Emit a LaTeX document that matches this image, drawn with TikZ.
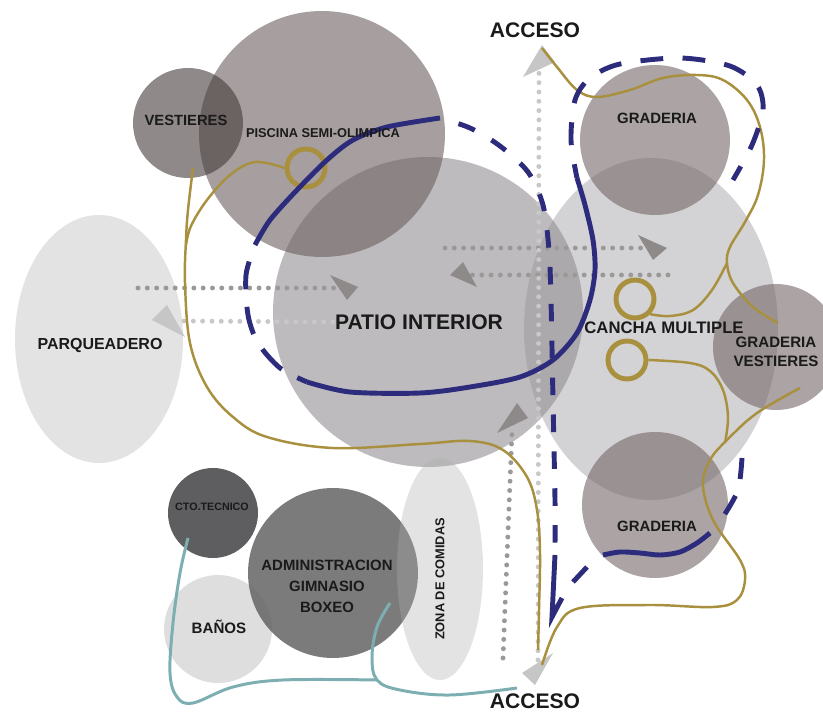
\documentclass[tikz,border=0pt]{standalone}
\usepackage{fontspec}
\setmainfont{Liberation Sans}
\usepackage{xcolor}
\usetikzlibrary{arrows.meta,positioning,shapes.geometric}
\definecolor{navy}{HTML}{2D2C7C}
\definecolor{gold}{HTML}{A8903F}
\definecolor{teal}{HTML}{7DAFB2}
\definecolor{ink}{HTML}{1A1A1A}
\definecolor{dotdark}{HTML}{9B9898}
\definecolor{dotlight}{HTML}{C8C8C8}
\definecolor{tipdark}{HTML}{8F8A8A}
\definecolor{tiplight}{HTML}{C6C6C6}
\definecolor{cParq}{HTML}{E3E3E3}
\definecolor{cCancha}{HTML}{B6B4B7}
\definecolor{cGrad}{HTML}{736667}
\definecolor{cPatio}{HTML}{918E91}
\definecolor{cPiscina}{HTML}{6C5F5F}
\definecolor{cVest}{HTML}{443A3A}
\definecolor{cCto}{HTML}{5E5D5F}
\definecolor{cBanos}{HTML}{DEDEDE}
\definecolor{cAdmin}{HTML}{656465}
\definecolor{cZona}{HTML}{AEAEAE}

\begin{document}
\begin{tikzpicture}[x=0.02cm,y=-0.02cm,
    zone/.style={circle,draw=none,inner sep=0pt,outer sep=0pt,fill opacity=0.6},
    oval/.style={ellipse,draw=none,inner sep=0pt,outer sep=0pt},
    lbl/.style 2 args={text=ink,inner sep=0pt,align=center,
      font=\fontsize{#1}{#2}\selectfont\bfseries},
    dotline/.style={line width=2.8pt,line cap=round,dash pattern=on 0pt off 5.3pt},
    bluepath/.style={navy,line width=2.8pt},
    goldpath/.style={gold,line width=1.4pt},
    tealpath/.style={teal,line width=1.7pt},
    ring/.style={circle,draw=gold,line width=2.8pt,minimum size=0.76cm,inner sep=0pt}]
  \useasboundingbox (0,0) rectangle (823,713);

  % zonas
  \node[oval,fill=cParq,minimum width=3.36cm,minimum height=4.96cm] (parq) at (99,339) {};
  \node[oval,fill=cCancha,fill opacity=0.6,minimum width=5.08cm,minimum height=6.84cm] (cancha) at (651,329) {};
  \node[zone,fill=cGrad,minimum size=3cm] (gradN) at (655,140) {};
  \node[zone,fill=cGrad,minimum size=2.52cm] (gradE) at (776,347) {};
  \node[zone,fill=cGrad,minimum size=2.92cm] (gradS) at (655,505) {};
  \node[zone,fill=cPatio,minimum size=6.2cm] (patio) at (428,312) {};
  \node[zone,fill=cPiscina,minimum size=4.92cm] (piscina) at (322,134) {};
  \node[zone,fill=cVest,minimum size=2.2cm] (vest) at (188,123) {};
  \node[zone,fill=cCto,fill opacity=1,minimum size=1.8cm] (cto) at (213,513) {};
  \node[zone,fill=cBanos,fill opacity=1,minimum size=2.16cm] (banos) at (218,629) {};
  \node[zone,fill=cAdmin,fill opacity=0.85,minimum size=3.4cm] (admin) at (333,573) {};
  \node[oval,fill=cZona,fill opacity=0.35,minimum width=1.72cm,minimum height=4.44cm] (zona) at (440,569) {};

  % recorridos peatonales
  \draw[dotline,dotdark] (138,288) -- (335,288);
  \fill[tipdark] (330,275) -- (358,287) -- (347,300) -- cycle;
  \draw[dotline,dotlight] (333,322) -- (182,321);
  \fill[tiplight] (152,320) -- (167,305) -- (185,337) -- cycle;
  \draw[dotline,dotdark] (445,248) -- (645,248);
  \fill[tipdark] (638,235) -- (667,248) -- (653,260) -- cycle;
  \draw[dotline,dotdark] (668,275) -- (472,275);
  \fill[tipdark] (450,275) -- (463,262) -- (477,287) -- cycle;
  \draw[dotline,dotlight] (538,660) -- (539,72);
  \fill[tiplight] (523,77) -- (542,45) -- (555,62) -- cycle;
  \fill[tiplight] (522,673) -- (553,653) -- (535,685) -- cycle;
  \draw[dotline,dotdark] (503,658) -- (512,432);
  \fill[tipdark] (497,433) -- (517,403) -- (528,418) -- cycle;

  % circulacion dorada
  \node[ring] (ringP) at (306,168) {};
  \node[ring] (ringC1) at (635,299) {};
  \node[ring] (ringC2) at (627,360) {};
  \draw[goldpath] plot[smooth,tension=0.6] coordinates {(193,168) (188,210) (186,240) (185,283)
    (190,343) (207,387) (233,417) (267,437) (333,448) (420,444) (470,441) (503,450)
    (527,477) (537,510) (540,553) (539,610) (538,650)};
  \draw[goldpath] plot[smooth,tension=0.6] coordinates {(ringP.west) (255,162) (230,175) (207,200)
    (191,226) (186,245)};
  \draw[goldpath] plot[smooth,tension=0.6] coordinates {(542,48) (557,67) (577,90) (597,97)
    (630,90) (663,78) (697,75) (723,80) (747,100) (760,127) (764,160) (758,195) (745,222)
    (730,247) (727,263) (733,283) (753,307) (778,323)};
  \draw[goldpath] plot[smooth,tension=0.6] coordinates {(727,263) (712,290) (693,310) (670,316)
    (ringC1.south east)};
  \draw[goldpath] plot[smooth,tension=0.6] coordinates {(ringC2.east) (690,363) (710,371) (723,390)
    (728,417) (725,443)};
  \draw[goldpath] plot[smooth,tension=0.6] coordinates {(800,388) (757,413) (727,440) (710,460)
    (703,485) (713,520) (740,560) (745,580) (737,600) (713,607) (650,605) (580,608)
    (557,627) (542,665)};

  % circulacion azul
  \draw[bluepath] plot[smooth] coordinates {(255,245) (270,220) (297,190) (327,160) (353,140)
    (387,127) (440,118)};
  \draw[bluepath,dash pattern=on 16pt off 10pt,dash phase=16pt] plot[smooth] coordinates
    {(255,245) (246,275) (248,315) (258,343) (280,368) (307,382)};
  \draw[bluepath] plot[smooth] coordinates {(307,382) (350,392) (420,393) (470,387) (520,377)
    (553,360) (577,333) (590,300) (595,270) (593,240) (585,205) (577,178)};
  \draw[bluepath,dash pattern=on 10pt off 11pt,dash phase=10pt] plot[smooth] coordinates
    {(440,118) (470,128) (500,146) (528,172) (543,205) (549,250) (551,300) (553,400)
    (555,500) (555,545)};
  \draw[bluepath] (555,555) -- (552,617) -- (562,598);
  \draw[bluepath,dash pattern=on 13pt off 11pt,dash phase=5pt] plot[smooth] coordinates
    {(577,178) (571,140) (575,100) (590,78) (620,64) (680,58) (730,66) (757,85) (763,110)
    (752,145) (733,180)};
  \draw[bluepath,dash pattern=on 12pt off 10pt] plot[smooth] coordinates {(742,458) (738,490) (723,517)};
  \draw[bluepath] plot[smooth] coordinates {(710,533) (697,543) (680,552) (660,555) (640,553)
    (620,552) (603,555)};
  \draw[bluepath] (587,567) -- (573,582);

  % servicios
  \draw[tealpath] plot[smooth,tension=0.6] coordinates {(188,538) (180,573) (173,623) (170,673)
    (177,697) (193,703) (233,687) (283,680) (377,680)};
  \draw[tealpath] plot[smooth,tension=0.6] coordinates {(390,603) (377,627) (372,657) (377,680)
    (400,690) (450,695) (517,688)};

  % textos
  \node[lbl={12}{14}] (accN) at (535,30) {ACCESO};
  \node[lbl={12}{14}] (accS) at (535,701) {ACCESO};
  \node[lbl={8.4}{10}] at (186,120) {VESTIERES};
  \node[lbl={7.3}{9}] at (323,133) {PISCINA SEMI-OLIMPICA};
  \node[lbl={8.5}{10}] at (657,118) {GRADERIA};
  \node[lbl={12}{14}] at (419,322) {PATIO INTERIOR};
  \node[lbl={9.5}{11}] at (664,328) {CANCHA MULTIPLE};
  \node[lbl={8.6}{10.8}] at (776,352) {GRADERIA\\VESTIERES};
  \node[lbl={9.1}{11}] at (100,345) {PARQUEADERO};
  \node[lbl={8.5}{10}] at (657,526) {GRADERIA};
  \node[lbl={6.1}{8}] at (212,507) {CTO.TECNICO};
  \node[lbl={8.5}{12}] at (327,586) {ADMINISTRACION\\GIMNASIO\\BOXEO};
  \node[lbl={8.6}{10}] at (219,627) {BAÑOS};
  \node[lbl={7.3}{9},rotate=90] at (440,579) {ZONA DE COMIDAS};
\end{tikzpicture}
\end{document}
